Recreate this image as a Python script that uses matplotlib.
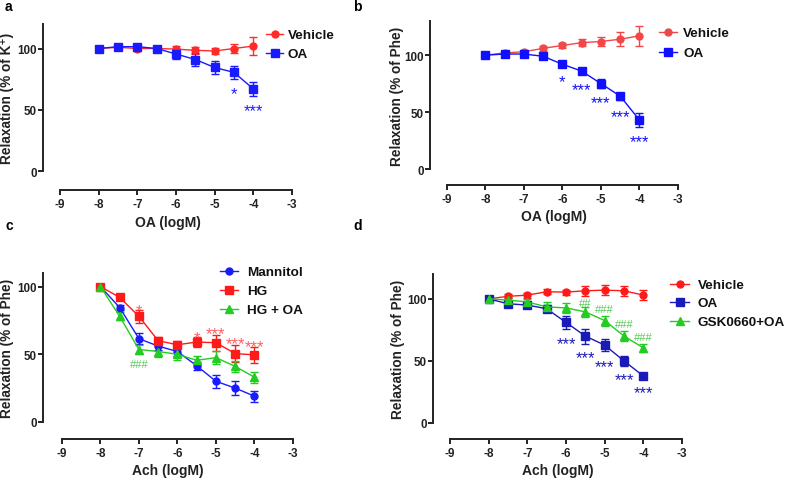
import matplotlib
matplotlib.use("Agg")
import matplotlib.pyplot as plt
from matplotlib.lines import Line2D

plt.rcParams['font.family'] = ['Liberation Sans', 'DejaVu Sans']
plt.rcParams['font.weight'] = 'bold'

x = [-8, -7.5, -7, -6.5, -6, -5.5, -5, -4.5, -4]
xticks = [-9, -8, -7, -6, -5, -4, -3]
yticks = [0, 50, 100]

# Panel a
a_veh = [100, 101, 100, 100, 99.5, 98.5, 98, 100, 102]
a_veh_err = [1, 1.5, 2, 2, 2.5, 3, 2.5, 4, 7]
a_oa = [100, 101.5, 101.5, 100, 95.5, 91, 84.5, 80.5, 67]
a_oa_err = [1, 1.5, 2.5, 2, 4, 5, 5, 5, 6]
a_stars = [(-4.5, '*'), (-4, '***')]
a_star_y = [68, 54]

# Panel b
b_veh = [100, 102, 103, 106, 108.5, 111, 112, 114, 117]
b_veh_err = [1, 1, 1.5, 2, 2, 3, 4, 6, 9]
b_oa = [100, 101, 101, 99, 92, 86, 75, 64, 43]
b_oa_err = [1, 1, 1.5, 1.5, 2, 2, 4, 3, 6]
b_stars = [(-6, '*'), (-5.5, '***'), (-5, '***'), (-4.5, '***'), (-4, '***')]
b_star_y = [82, 75, 63, 51, 29]

# Panel c
c_man = [100, 84.5, 61.5, 56, 52, 41.5, 30, 25, 19]
c_man_err = [1, 2, 4, 3, 3, 3, 5, 5, 4]
c_hg = [100, 92, 78, 60, 57, 59, 58.5, 50.5, 49.5]
c_hg_err = [1, 2, 5, 3, 3, 4, 6, 6, 6]
c_hgoa = [100, 78, 53.5, 52, 50, 45.5, 47.5, 41, 33]
c_hgoa_err = [1, 3, 3, 4, 4, 3, 5, 4, 4]
c_stars = [(-7, '*'), (-5.5, '*'), (-5, '***'), (-4.5, '***'), (-4, '***')]
c_star_y = [86, 66, 69, 62, 60]
c_hash = [(-7, '###')]
c_hash_y = [43]

# Panel d
d_veh = [100, 102, 103, 105.7, 105.4, 106.5, 107, 106.5, 103]
d_veh_err = [1, 1.5, 2, 2, 2, 4, 4, 4, 4]
d_oa = [100, 96, 95, 92, 81, 70, 62.7, 50, 37.8]
d_oa_err = [1, 2, 2, 3, 5, 6, 5, 4, 2]
d_gsk = [100, 99, 97.5, 93.5, 92.7, 89.5, 82.5, 70, 60.5]
d_gsk_err = [1, 1.5, 2, 4, 4, 4, 4, 4, 3]
d_stars = [(-6, '***'), (-5.5, '***'), (-5, '***'), (-4.5, '***'), (-4, '***')]
d_star_y = [68.4, 57, 50, 39, 28.6]
d_hash = [(-5.5, '##'), (-5, '###'), (-4.5, '###'), (-4, '###')]
d_hash_y = [97.5, 92, 80, 70]

W, H = 787, 481
fig = plt.figure(figsize=(W / 100, H / 100), dpi=100)
AXC = '#222222'


def make_ax(left, top, right, bottom, ytop, xspine, ybottom, xlabel, ylabel, ylab_px):
    ax = fig.add_axes([left / W, 1 - bottom / H, (right - left) / W, (bottom - top) / H])
    ax.set_xlim(xspine, -3)
    ax.set_ylim(ybottom, ytop)
    for s in ['top', 'right']:
        ax.spines[s].set_visible(False)
    ax.spines['left'].set_bounds(0, ytop)
    ax.spines['bottom'].set_bounds(-9, -3)
    for s in ['left', 'bottom']:
        ax.spines[s].set_linewidth(1.4)
        ax.spines[s].set_color(AXC)
    ax.set_xticks(xticks)
    ax.set_xticklabels([str(t) for t in xticks])
    ax.set_yticks(yticks)
    ax.tick_params(width=1.4, length=3.5, labelsize=8.4, colors=AXC)
    ax.tick_params(axis='y', pad=1)
    ax.tick_params(axis='x', pad=2.5)
    for lab in ax.get_xticklabels() + ax.get_yticklabels():
        lab.set_fontweight('bold')
    ax.set_xlabel(xlabel, fontsize=10, fontweight='bold', labelpad=3, color=AXC)
    ax.set_ylabel(ylabel, fontsize=9.8, fontweight='bold', color=AXC)
    ycen = (ytop / 2 - ybottom) / (ytop - ybottom)
    ax.yaxis.set_label_coords((ylab_px - left) / (right - left), ycen)
    return ax


def series(ax, y, err, color, marker, ms):
    ax.errorbar(x, y, yerr=err, color=color, marker=marker, markersize=ms,
                linewidth=1.0, elinewidth=1.0, capsize=3, capthick=1.0)


def annotate(ax, items, ys, color, fs, kind):
    # shift so that the glyph (not the text box) is centred on the value
    off = -0.33 * fs if kind == 'star' else -0.06 * fs
    for (xv, t), yv in zip(items, ys):
        ax.annotate(t, (xv, yv), xytext=(0, off), textcoords='offset points',
                    color=color, fontsize=fs, ha='center', va='center',
                    fontweight='normal')


def legend(entries, x0, x1, tx, rows):
    for (label, color, marker, ms), ry in zip(entries, rows):
        yf = 1 - ry / H
        fig.add_artist(Line2D([x0 / W, x1 / W], [yf, yf], transform=fig.transFigure,
                              color=color, linewidth=1.0))
        fig.add_artist(Line2D([(x0 + x1) / 2 / W], [yf], transform=fig.transFigure,
                              color=color, marker=marker, markersize=ms, linestyle='none'))
        fig.text(tx / W, yf - 0.8 / H, label, fontsize=9.7, fontweight='bold',
                 ha='left', va='center', color='#111111')


# a
red_a, blue_a = '#ff2a2a', '#1a1aff'
ax = make_ax(43, 25, 292, 191, 120, -9.44, -15.5, 'OA (logM)', 'Relaxation (% of K\u207a)', 14)
series(ax, a_veh, a_veh_err, red_a, 'o', 5)
series(ax, a_oa, a_oa_err, blue_a, 's', 5.5)
annotate(ax, a_stars, a_star_y, blue_a, 12, 'star')
legend([('Vehicle', red_a, 'o', 5), ('OA', blue_a, 's', 5.5)], 266, 283, 288, [35, 54])

# b
red_b, blue_b = '#f04848', '#1010ff'
ax = make_ax(430, 22, 678, 186, 130, -9.44, -14, 'OA (logM)', 'Relaxation (% of Phe)', 404)
series(ax, b_veh, b_veh_err, red_b, 'o', 5)
series(ax, b_oa, b_oa_err, blue_b, 's', 5.5)
annotate(ax, b_stars, b_star_y, blue_b, 12, 'star')
legend([('Vehicle', red_b, 'o', 5), ('OA', blue_b, 's', 5.5)], 659, 677, 683, [33, 53])

# c
red_c, blue_c, green_c = '#ff1a1a', '#1a1aff', '#22cc22'
ax = make_ax(43, 274, 293, 440, 110, -9.49, -12.6, 'Ach (logM)', 'Relaxation (% of Phe)', 14)
series(ax, c_man, c_man_err, blue_c, 'o', 5)
series(ax, c_hg, c_hg_err, red_c, 's', 5.5)
series(ax, c_hgoa, c_hgoa_err, green_c, '^', 5.5)
annotate(ax, c_stars, c_star_y, '#ff6060', 12, 'star')
annotate(ax, c_hash, c_hash_y, '#55cc55', 8, 'hash')
legend([('Mannitol', blue_c, 'o', 5), ('HG', red_c, 's', 5.5), ('HG + OA', green_c, '^', 5.5)],
       220, 238, 247, [272, 291, 310])

# d
red_d, blue_d, green_d = '#ff1a1a', '#1a1ab8', '#22cc22'
ax = make_ax(433, 275, 682, 440, 120, -9.44, -12.9, 'Ach (logM)', 'Relaxation (% of Phe)', 405)
series(ax, d_veh, d_veh_err, red_d, 'o', 5)
series(ax, d_oa, d_oa_err, blue_d, 's', 5.5)
series(ax, d_gsk, d_gsk_err, green_d, '^', 5.5)
annotate(ax, d_stars, d_star_y, blue_d, 12, 'star')
annotate(ax, d_hash, d_hash_y, '#55cc55', 8, 'hash')
legend([('Vehicle', red_d, 'o', 5), ('OA', blue_d, 's', 5.5), ('GSK0660+OA', green_d, '^', 5.5)],
       670, 689, 698, [285, 303, 322])

for lab, px, py in [('a', 5, 7), ('b', 353, 7), ('c', 5, 226), ('d', 353, 226)]:
    fig.text(px / W, 1 - py / H, lab, fontsize=10, fontweight='bold', ha='left', va='center')

fig.savefig('out.png', dpi=100)
